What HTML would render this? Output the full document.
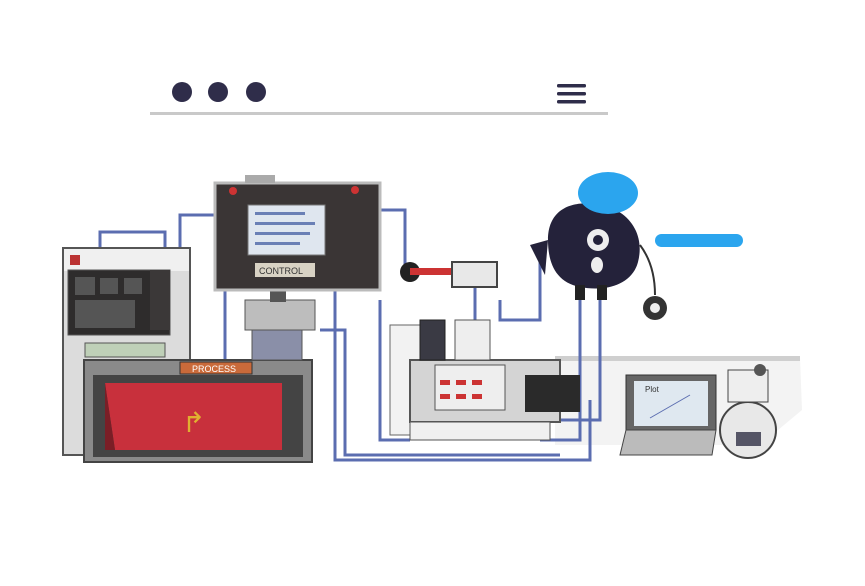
<!DOCTYPE html>
<html><head><meta charset="utf-8"><style>
html,body{margin:0;padding:0;background:#fff;width:865px;height:586px;overflow:hidden}
svg{display:block}
text{font-family:"Liberation Sans",sans-serif}
</style></head><body>
<svg width="865" height="586" viewBox="0 0 865 586" xmlns="http://www.w3.org/2000/svg">
<rect width="865" height="586" fill="#fff"/>
<!-- header -->
<circle cx="182" cy="92" r="10" fill="#2f2d4a"/>
<circle cx="218" cy="92" r="10" fill="#2f2d4a"/>
<circle cx="256" cy="92" r="10" fill="#2f2d4a"/>
<rect x="557" y="84" width="29" height="3.5" rx="1.5" fill="#2f2d4a"/>
<rect x="557" y="92" width="29" height="3.5" rx="1.5" fill="#2f2d4a"/>
<rect x="557" y="100" width="29" height="3.5" rx="1.5" fill="#2f2d4a"/>
<rect x="150" y="112" width="458" height="3" fill="#c9c9c9"/>
<!-- floor -->
<polygon points="555,360 800,358 802,410 760,445 555,445" fill="#f3f3f3"/>
<rect x="555" y="356" width="245" height="5" fill="#cfcfcf"/>
<!-- cables -->
<g fill="none" stroke="#5b6db0" stroke-width="3">
<path d="M100,250 V232 H165 V250"/>
<path d="M180,250 V215 H215"/>
<path d="M380,210 H405 V265 H410"/>
<path d="M335,290 V460 H590 V400"/>
<path d="M320,330 H345 V455 H560"/>
<path d="M225,290 V360"/>
<path d="M380,300 V440 H410"/>
<path d="M600,295 V420 H560"/>
<path d="M500,300 V320 H540 V260"/>
<path d="M475,285 V320"/>
<path d="M580,300 V440 H540"/>
</g>
<!-- left cabinet -->
<rect x="63" y="248" width="127" height="207" fill="#dcdcdc" stroke="#555" stroke-width="2"/>
<rect x="64" y="249" width="125" height="22" fill="#f0f0f0"/>
<rect x="68" y="270" width="102" height="65" fill="#2e2c2c" stroke="#555"/>
<g fill="#555"><rect x="75" y="277" width="20" height="18"/><rect x="100" y="278" width="18" height="16"/><rect x="124" y="278" width="18" height="16"/><rect x="75" y="300" width="60" height="28"/></g>
<rect x="150" y="270" width="20" height="60" fill="#3b3838"/>
<rect x="70" y="255" width="10" height="10" fill="#b33"/>
<rect x="85" y="343" width="80" height="14" fill="#bfd0b8" stroke="#555"/>
<!-- red box -->
<rect x="84" y="360" width="228" height="102" fill="#8a8a8a" stroke="#444" stroke-width="2"/>
<rect x="93" y="375" width="210" height="82" fill="#444"/>
<polygon points="105,383 282,383 282,450 115,450" fill="#c8303c"/>
<polygon points="105,383 115,450 105,450" fill="#7a1e26"/>
<rect x="180" y="362" width="72" height="12" fill="#c96a3a" stroke="#333"/>
<text x="192" y="372" font-size="9" fill="#fff">PROCESS</text>
<text x="182" y="432" font-size="28" fill="#e0b030">↱</text>
<!-- center column -->
<rect x="245" y="300" width="70" height="30" fill="#bdbdbd" stroke="#555"/>
<rect x="252" y="330" width="50" height="30" fill="#8a8fa8" stroke="#555"/>
<rect x="270" y="290" width="16" height="12" fill="#555"/>
<!-- monitor -->
<rect x="215" y="183" width="165" height="107" fill="#3a3535" stroke="#bbb" stroke-width="3"/>
<rect x="248" y="205" width="77" height="50" fill="#dfe6ef" stroke="#777"/>
<g fill="#6a7fb5"><rect x="255" y="212" width="50" height="3"/><rect x="255" y="222" width="60" height="3"/><rect x="255" y="232" width="55" height="3"/><rect x="255" y="242" width="45" height="3"/></g>
<rect x="255" y="263" width="60" height="14" fill="#d8d2c4"/>
<text x="259" y="274" font-size="9" fill="#333">CONTROL</text>
<rect x="245" y="175" width="30" height="8" fill="#aaa"/>
<circle cx="355" cy="190" r="4" fill="#c33"/>
<circle cx="233" cy="191" r="4" fill="#c33"/>
<!-- connector nub -->
<circle cx="410" cy="272" r="10" fill="#222"/>
<rect x="410" y="268" width="45" height="7" fill="#c33"/>
<rect x="452" y="262" width="45" height="25" fill="#e8e8e8" stroke="#444" stroke-width="2"/>
<!-- middle machine -->
<rect x="390" y="325" width="30" height="110" fill="#f2f2f2" stroke="#666"/>
<rect x="410" y="360" width="150" height="62" fill="#d4d4d4" stroke="#555" stroke-width="2"/>
<rect x="435" y="365" width="70" height="45" fill="#eee" stroke="#555"/>
<g fill="#c33"><rect x="440" y="380" width="10" height="5"/><rect x="456" y="380" width="10" height="5"/><rect x="472" y="380" width="10" height="5"/><rect x="440" y="394" width="10" height="5"/><rect x="456" y="394" width="10" height="5"/><rect x="472" y="394" width="10" height="5"/></g>
<rect x="420" y="320" width="25" height="40" fill="#3a3a44" stroke="#222"/>
<rect x="455" y="320" width="35" height="40" fill="#eee" stroke="#555"/>
<rect x="525" y="375" width="55" height="37" fill="#2a2a2a"/>
<rect x="410" y="422" width="140" height="18" fill="#f0f0f0" stroke="#555"/>
<!-- character -->
<rect x="655" y="234" width="88" height="13" rx="6.5" fill="#2ba5ee"/>
<path d="M548,240 C548,205 578,200 600,205 C630,210 645,235 638,262 C632,285 605,292 580,287 C555,282 548,262 548,240Z" fill="#24223a"/>
<polygon points="548,240 530,245 545,275" fill="#24223a"/>
<ellipse cx="608" cy="193" rx="30" ry="21" fill="#2ba5ee"/>
<circle cx="598" cy="240" r="11" fill="#eee"/><circle cx="598" cy="240" r="5" fill="#24223a"/>
<ellipse cx="597" cy="265" rx="6" ry="8" fill="#eee"/>
<rect x="575" y="285" width="10" height="15" fill="#222"/><rect x="597" y="285" width="10" height="15" fill="#222"/>
<path d="M640,245 Q655,265 655,295" stroke="#333" stroke-width="2" fill="none"/>
<circle cx="655" cy="308" r="12" fill="#333"/><circle cx="655" cy="308" r="5" fill="#eee"/>
<!-- laptop -->
<rect x="626" y="375" width="90" height="55" fill="#666" stroke="#333"/>
<rect x="634" y="381" width="74" height="45" fill="#dfe8f0"/>
<text x="645" y="392" font-size="8" fill="#333">Plot</text>
<path d="M650,418 L690,395" stroke="#5b6db0" fill="none"/>
<polygon points="626,430 716,430 712,455 620,455" fill="#bbb" stroke="#444"/>
<circle cx="748" cy="430" r="28" fill="#e8e8e8" stroke="#444" stroke-width="2"/>
<rect x="736" y="432" width="25" height="14" fill="#556"/>
<rect x="728" y="370" width="40" height="32" fill="#eee" stroke="#444"/>
<circle cx="760" cy="370" r="6" fill="#555"/>
</svg>
</body></html>
